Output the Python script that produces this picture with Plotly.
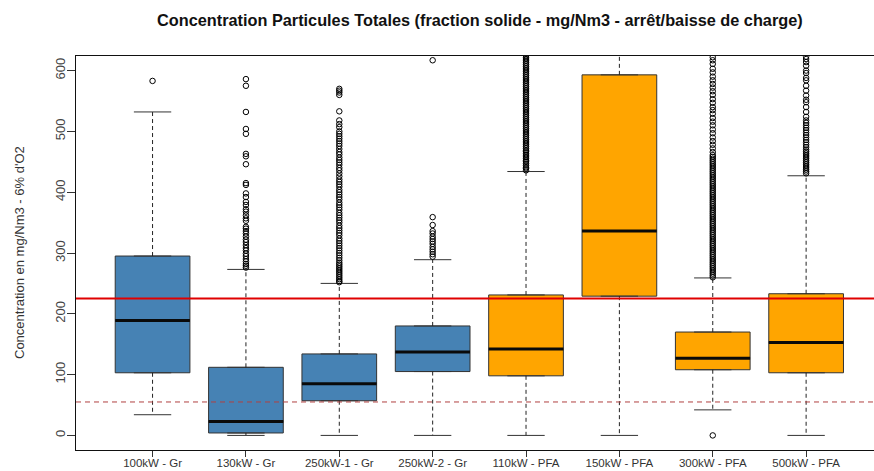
import plotly.graph_objects as go

categories = ["100kW - Gr", "130kW - Gr", "250kW-1 - Gr", "250kW-2 - Gr",
              "110kW - PFA", "150kW - PFA", "300kW - PFA", "500kW - PFA"]
fuel = ["Gr", "Gr", "Gr", "Gr", "PFA", "PFA", "PFA", "PFA"]

q1 = [103, 4, 57, 105, 98, 229, 108, 103]
median = [189, 23, 85, 137, 142, 336, 127, 153]
q3 = [295, 112, 134, 180, 231, 593, 170, 233]
lower_whisker = [34, 0, 0, 0, 0, 0, 42, 0]
upper_whisker = [532, 273, 250, 289, 434, 700, 259, 427]

out_100 = [583, 630]
out_130 = [586, 575, 532, 504, 496, 463, 459, 446, 415, 412, 398, 392, 384, 379, 372, 368,
           362, 357, 353, 343, 340, 336, 332, 327, 322, 318, 313, 308, 304, 299, 295, 290,
           286, 282, 279, 276]
out_250_1 = [570, 567, 564, 560, 533, 518, 512, 507, 500, 496, 492, 488, 484, 480, 476, 471,
             466, 462, 457, 453, 449, 445, 440, 436, 431, 426, 421, 417, 413, 409, 404, 400,
             396, 392, 388, 383, 379, 375, 371, 366, 362, 358, 354, 350, 345, 341, 337, 333,
             329, 324, 320, 316, 312, 308, 304, 300, 296, 292, 288, 284, 281, 278, 275, 272,
             269, 266, 263, 260, 257, 254, 252]
out_250_2 = [617, 359, 346, 336, 332, 327, 323, 319, 315, 310, 306, 302, 298, 294]
out_110 = [436, 439, 441, 444, 447, 450, 452, 455, 458, 461, 464, 467, 469, 472, 475, 478,
           481, 484, 487, 490, 493, 496, 499, 502, 505, 508, 511, 514, 517, 520, 523, 526,
           529, 532, 535, 538, 541, 544, 547, 550, 553, 556, 559, 562, 565, 568, 571, 574,
           577, 580, 583, 586, 589, 592, 595, 598, 601, 604, 607, 610, 613, 616, 619, 622,
           625, 628]
out_150 = []
out_300 = [622, 617, 611, 603, 597, 590, 584, 578, 572, 566, 560, 553, 547, 540, 535, 529,
           522, 516, 510, 503, 497, 490, 484, 478, 472, 466,
           461, 458, 455, 452, 449, 446, 443, 440, 437, 434, 431, 428, 425, 422, 419, 416,
           413, 410, 407, 404, 401, 398, 395, 392, 389, 386, 383, 380, 377, 374, 371, 368,
           365, 362, 359, 356, 353, 350, 347, 344, 341, 338, 335, 332, 329, 326, 323, 320,
           317, 314, 311, 308, 305, 302, 299, 296, 293, 290, 287, 284, 281, 278, 275, 272,
           269, 266, 263, 260, 0]
out_500 = [623, 619, 614, 608, 600, 596, 588, 584, 575, 567, 559, 552, 548, 540, 532, 524,
           518, 514, 510, 506, 502, 498, 494, 490, 486, 482, 478, 474, 470, 467, 464, 461,
           458, 455, 452, 449, 446, 443, 440, 437, 434, 431]
outliers = [out_100, out_130, out_250_1, out_250_2, out_110, out_150, out_300, out_500]

limit_values = [225, 55]

y_ticks = [0, 100, 200, 300, 400, 500, 600]

title_text = "Concentration Particules Totales (fraction solide - mg/Nm3 - arrêt/baisse de charge)"
y_title = "Concentration en mg/Nm3 - 6% d'O2"

colors = {"Gr": "#4682B4", "PFA": "#FFA500"}
BOX_W = 0.8
FONT = "Liberation Sans, Arial, sans-serif"
PLOT_H = 471 - 56 - 21

fig = go.Figure()
xs = [i + 1 for i in range(len(categories))]

# boxes
for i, cat in enumerate(categories):
    fig.add_trace(go.Box(
        x=[xs[i]], q1=[q1[i]], median=[median[i]], q3=[q3[i]],
        lowerfence=[q1[i]], upperfence=[q3[i]],
        width=BOX_W, fillcolor=colors[fuel[i]],
        line=dict(color="#333333", width=1),
        name=cat, showlegend=False, hoverinfo="skip"))

# dashed whiskers, caps, medians
wx, wy = [], []
cx, cy = [], []
mx, my = [], []
for i in range(len(categories)):
    x = xs[i]
    wx += [x, x, None, x, x, None]
    wy += [q3[i], upper_whisker[i], None, q1[i], lower_whisker[i], None]
    cx += [x - BOX_W / 4, x + BOX_W / 4, None, x - BOX_W / 4, x + BOX_W / 4, None]
    cy += [upper_whisker[i], upper_whisker[i], None, lower_whisker[i], lower_whisker[i], None]
    mx += [x - BOX_W / 2, x + BOX_W / 2, None]
    my += [median[i], median[i], None]

fig.add_trace(go.Scatter(x=wx, y=wy, mode="lines",
                         line=dict(color="#222222", width=1, dash="4px,3px"),
                         showlegend=False, hoverinfo="skip"))
fig.add_trace(go.Scatter(x=cx, y=cy, mode="lines",
                         line=dict(color="#333333", width=1),
                         showlegend=False, hoverinfo="skip"))
fig.add_trace(go.Scatter(x=mx, y=my, mode="lines",
                         line=dict(color="#0a0a0a", width=3),
                         showlegend=False, hoverinfo="skip"))

ox, oy = [], []
for i, vals in enumerate(outliers):
    ox += [xs[i]] * len(vals)
    oy += vals
fig.add_trace(go.Scatter(x=ox, y=oy, mode="markers",
                         marker=dict(symbol="circle-open", size=5.5, color="#000000",
                                     line=dict(width=1, color="#000000")),
                         showlegend=False, hoverinfo="skip", cliponaxis=True))

# threshold lines
fig.add_shape(type="line", xref="paper", x0=0, x1=1, y0=limit_values[0], y1=limit_values[0],
              line=dict(color="#E00000", width=2), layer="above")
fig.add_shape(type="line", xref="paper", x0=0, x1=1, y0=limit_values[1], y1=limit_values[1],
              line=dict(color="#B04040", width=1, dash="5px,4px"), layer="above")

fig.update_layout(
    width=874, height=471,
    margin=dict(l=76, r=0, t=56, b=21),
    paper_bgcolor="white", plot_bgcolor="white",
    boxmode="overlay",
    font=dict(family=FONT, size=12, color="#333333"),
    xaxis=dict(range=[0.18, 8.727], tickmode="array", tickvals=xs, ticktext=categories,
               showgrid=False, zeroline=False, showline=True, mirror=True,
               linecolor="#111111", linewidth=1, ticks="outside", ticklen=6,
               tickcolor="#333333", tickfont=dict(size=11.5, color="#333333"),
               ticklabelstandoff=-4, automargin=False),
    yaxis=dict(range=[-24, 624], tickmode="array", tickvals=y_ticks,
               showgrid=False, zeroline=False, showline=True, mirror=False,
               linecolor="#111111", linewidth=1, ticks="outside", ticklen=8,
               tickcolor="#333333", tickangle=-90, tickfont=dict(size=13, color="#444444"),
               ticklabelstandoff=-3, automargin=False),
    annotations=[
        dict(text="<b>" + title_text + "</b>",
             xref="paper", yref="paper", x=(480 - 76) / 798, y=1 + (56 - 20) / PLOT_H,
             xanchor="center", yanchor="middle", showarrow=False,
             font=dict(family=FONT, size=16.3, color="#111111")),
        dict(text=y_title, textangle=-90,
             xref="paper", yref="paper", x=(19 - 76) / 798, y=0.5,
             xanchor="center", yanchor="middle", showarrow=False,
             font=dict(family=FONT, size=13, color="#333333")),
    ],
)

fig.write_html("out.html", config={"displayModeBar": False},
               post_script="document.body.style.margin='0';document.body.style.overflow='hidden';")
